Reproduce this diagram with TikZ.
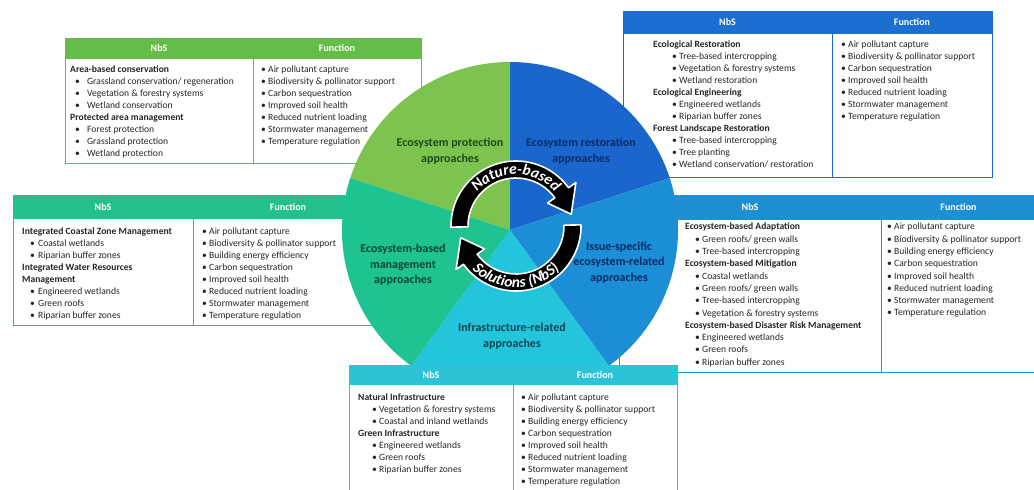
\documentclass[tikz,border=0pt]{standalone}
\usepackage{fontspec}
\setmainfont{Carlito}
\usetikzlibrary{decorations.text}

\definecolor{gProt}{HTML}{7DC350}
\definecolor{hProt}{HTML}{66BC48}
\definecolor{gRest}{HTML}{1A66CC}
\definecolor{hRest}{HTML}{1C6ED0}
\definecolor{gIss}{HTML}{1C8ED6}
\definecolor{hIss}{HTML}{1F8FD3}
\definecolor{gInf}{HTML}{24C5DC}
\definecolor{hInf}{HTML}{2BC3D5}
\definecolor{gMan}{HTML}{1FC391}
\definecolor{hMan}{HTML}{22C08D}
\definecolor{txt}{HTML}{262626}
\definecolor{lblGreen}{HTML}{1F4A15}
\definecolor{lblNavy}{HTML}{0B2A66}
\definecolor{lblTeal}{HTML}{0C4535}
\definecolor{lblCyan}{HTML}{0C4552}

\newcommand\itm[3]{\hspace*{#1pt}\makebox[#2pt][l]{\textbullet}#3}
\newcommand\ringfont{\bfseries\itshape\fontsize{15.5}{15.5}\selectfont}

\tikzset{
  boxtext/.style={anchor=north west, inner sep=0pt, align=left,
    font=\fontsize{9.6}{12}\selectfont, text=txt},
  headtext/.style={text=white, font=\bfseries\fontsize{10}{12}\selectfont, inner sep=0pt},
  seclabel/.style={align=center, font=\bfseries\fontsize{12}{15.5}\selectfont, inner sep=0pt},
  ringstyle/.style={fill=black, draw=white, line width=1.6pt, line join=round},
}

% prefix, colour, L, T, D, R, H, B
\newcommand\nbsbox[8]{%
  \fill[white] (#3,-#4) rectangle (#6,-#8);
  \fill[#2] (#3,-#4) rectangle (#6,-#7);
  \draw[#2, line width=0.8pt] (#3,-#4) rectangle (#6,-#8);
  \draw[#2, line width=0.8pt] (#5,-#7) -- (#5,-#8);
  \node[headtext] (#1nbs) at ({(#3+#5)/2},{-(#4+#7)/2}) {NbS};
  \node[headtext] (#1fun) at ({(#5+#6)/2},{-(#4+#7)/2}) {Function};
}

\begin{document}
\begin{tikzpicture}[x=1pt,y=1pt]
\useasboundingbox (0,-490) rectangle (1034,0);
\fill[white] (0,-490) rectangle (1034,0);

% ---------- top-left box (protection)
\nbsbox{tl}{hProt}{65}{38}{253}{421}{59}{163}
\node[boxtext] (tlA) at (70,-66) {\textbf{Area-based conservation}\\
\itm{5}{12}{Grassland conservation/ regeneration}\\
\itm{5}{12}{Vegetation \& forestry systems}\\
\itm{5}{12}{Wetland conservation}\\
\textbf{Protected area management}\\
\itm{5}{12}{Forest protection}\\
\itm{5}{12}{Grassland protection}\\
\itm{5}{12}{Wetland protection}};
\node[boxtext] (tlB) at (261,-66) {\itm{0}{7}{Air pollutant capture}\\
\itm{0}{7}{Biodiversity \& pollinator support}\\
\itm{0}{7}{Carbon sequestration}\\
\itm{0}{7}{Improved soil health}\\
\itm{0}{7}{Reduced nutrient loading}\\
\itm{0}{7}{Stormwater management}\\
\itm{0}{7}{Temperature regulation}};

% ---------- top-right box (restoration)
\nbsbox{tr}{hRest}{623}{11}{832}{992}{34}{177}
\node[boxtext] (trA) at (653,-41) {\textbf{Ecological Restoration}\\
\itm{19}{7}{Tree-based intercropping}\\
\itm{19}{7}{Vegetation \& forestry systems}\\
\itm{19}{7}{Wetland restoration}\\
\textbf{Ecological Engineering}\\
\itm{19}{7}{Engineered wetlands}\\
\itm{19}{7}{Riparian buffer zones}\\
\textbf{Forest Landscape Restoration}\\
\itm{19}{7}{Tree-based intercropping}\\
\itm{19}{7}{Tree planting}\\
\itm{19}{7}{Wetland conservation/ restoration}};
\node[boxtext] (trB) at (841,-41) {\itm{0}{7}{Air pollutant capture}\\
\itm{0}{7}{Biodiversity \& pollinator support}\\
\itm{0}{7}{Carbon sequestration}\\
\itm{0}{7}{Improved soil health}\\
\itm{0}{7}{Reduced nutrient loading}\\
\itm{0}{7}{Stormwater management}\\
\itm{0}{7}{Temperature regulation}};

% ---------- left box (management)
\nbsbox{ml}{hMan}{13}{195}{193}{383}{219}{325}
\node[boxtext] (mlA) at (22,-228) {\textbf{Integrated Coastal Zone Management}\\
\itm{8}{8}{Coastal wetlands}\\
\itm{8}{8}{Riparian buffer zones}\\
\textbf{Integrated Water Resources}\\
\textbf{Management}\\
\itm{8}{8}{Engineered wetlands}\\
\itm{8}{8}{Green roofs}\\
\itm{8}{8}{Riparian buffer zones}};
\node[boxtext] (mlB) at (202,-228) {\itm{0}{7}{Air pollutant capture}\\
\itm{0}{7}{Biodiversity \& pollinator support}\\
\itm{0}{7}{Building energy efficiency}\\
\itm{0}{7}{Carbon sequestration}\\
\itm{0}{7}{Improved soil health}\\
\itm{0}{7}{Reduced nutrient loading}\\
\itm{0}{7}{Stormwater management}\\
\itm{0}{7}{Temperature regulation}};

% ---------- right box (issue-specific)
\nbsbox{mr}{hIss}{619}{195}{881}{1036}{220}{372}
\node[boxtext, font=\fontsize{9.6}{12.3}\selectfont] (mrA) at (685,-223) {\textbf{Ecosystem-based Adaptation}\\
\itm{10}{7}{Green roofs/ green walls}\\
\itm{10}{7}{Tree-based intercropping}\\
\textbf{Ecosystem-based Mitigation}\\
\itm{10}{7}{Coastal wetlands}\\
\itm{10}{7}{Green roofs/ green walls}\\
\itm{10}{7}{Tree-based intercropping}\\
\itm{10}{7}{Vegetation \& forestry systems}\\
\textbf{Ecosystem-based Disaster Risk Management}\\
\itm{10}{7}{Engineered wetlands}\\
\itm{10}{7}{Green roofs}\\
\itm{10}{7}{Riparian buffer zones}};
\node[boxtext, font=\fontsize{9.6}{12.3}\selectfont] (mrB) at (887,-223) {\itm{0}{7}{Air pollutant capture}\\
\itm{0}{7}{Biodiversity \& pollinator support}\\
\itm{0}{7}{Building energy efficiency}\\
\itm{0}{7}{Carbon sequestration}\\
\itm{0}{7}{Improved soil health}\\
\itm{0}{7}{Reduced nutrient loading}\\
\itm{0}{7}{Stormwater management}\\
\itm{0}{7}{Temperature regulation}};

% ---------- circle sectors
\begin{scope}[shift={(510,-230)}]
  \fill[gProt] (0,0) -- (90:168pt) arc[start angle=90,end angle=162,radius=168pt] -- cycle;
  \fill[gRest] (0,0) -- (18:168pt) arc[start angle=18,end angle=90,radius=168pt] -- cycle;
  \fill[gIss]  (0,0) -- (-54:168pt) arc[start angle=-54,end angle=18,radius=168pt] -- cycle;
  \fill[gInf]  (0,0) -- (-126:168pt) arc[start angle=-126,end angle=-54,radius=168pt] -- cycle;
  \fill[gMan]  (0,0) -- (162:168pt) arc[start angle=162,end angle=234,radius=168pt] -- cycle;
\end{scope}

% ---------- sector labels
\node[seclabel, text=lblGreen] (lprot) at (450,-151) {Ecosystem protection\\approaches};
\node[seclabel, text=lblNavy] (lrest) at (581,-151) {Ecosystem restoration\\approaches};
\node[seclabel, text=lblNavy] (liss) at (619,-262.5) {Issue-specific\\ecosystem-related\\approaches};
\node[seclabel, text=lblTeal] (lman) at (403,-265) {Ecosystem-based\\management\\approaches};
\node[seclabel, text=lblCyan] (linf) at (512,-336) {Infrastructure-related\\approaches};

% ---------- central ring of arrows
\begin{scope}[shift={(516,-226)}]
  \filldraw[ringstyle] (181:65pt) arc[start angle=181,end angle=36,radius=65pt]
     -- (36:74pt) -- (12:56.5pt) -- (36:39pt) -- (36:48pt)
     arc[start angle=36,end angle=181,radius=48pt] -- cycle;
  \filldraw[ringstyle] (1:65pt) arc[start angle=1,end angle=-144,radius=65pt]
     -- (216:74pt) -- (192:56.5pt) -- (216:39pt) -- (216:48pt)
     arc[start angle=216,end angle=361,radius=48pt] -- cycle;
  \path[decorate, decoration={text along path, text align=center, text color=white,
      text={|\ringfont|Nature-based}}]
     (165:51.5pt) arc[start angle=165,end angle=15,radius=51.5pt];
  \path[decorate, decoration={text along path, text align=center, text color=white,
      text={|\ringfont|Solutions (NbS)}}]
     (200:61.5pt) arc[start angle=200,end angle=340,radius=61.5pt];
\end{scope}

% ---------- bottom box (infrastructure), on top of the circle
\nbsbox{bm}{hInf}{349}{365}{513}{677}{385}{493}
\node[boxtext] (bmA) at (358,-394) {\textbf{Natural Infrastructure}\\
\itm{14}{7}{Vegetation \& forestry systems}\\
\itm{14}{7}{Coastal and inland wetlands}\\
\textbf{Green Infrastructure}\\
\itm{14}{7}{Engineered wetlands}\\
\itm{14}{7}{Green roofs}\\
\itm{14}{7}{Riparian buffer zones}};
\node[boxtext] (bmB) at (521,-394) {\itm{0}{7}{Air pollutant capture}\\
\itm{0}{7}{Biodiversity \& pollinator support}\\
\itm{0}{7}{Building energy efficiency}\\
\itm{0}{7}{Carbon sequestration}\\
\itm{0}{7}{Improved soil health}\\
\itm{0}{7}{Reduced nutrient loading}\\
\itm{0}{7}{Stormwater management}\\
\itm{0}{7}{Temperature regulation}};
\end{tikzpicture}
\end{document}
